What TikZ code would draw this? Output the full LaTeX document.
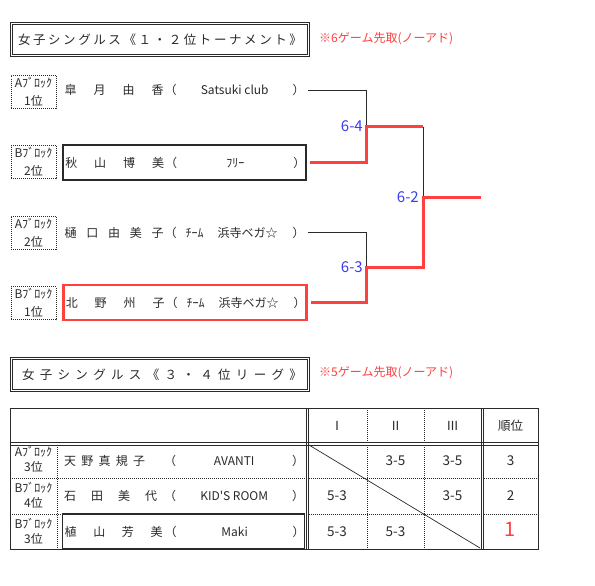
\documentclass[tikz,border=0pt]{standalone}
\usepackage{fontspec}
\newfontfamily\jp{Noto Sans CJK JP}
\usetikzlibrary{calc}
\definecolor{rd}{HTML}{FF4040}
\definecolor{bl}{HTML}{3C3CF0}
\definecolor{dk}{HTML}{2A2A2A}
\newcommand\pl[4]{\makebox[102pt][l]{\hspace{2pt}\makebox[#1][s]{#2}}（\makebox[116pt][#3]{#4}）}
\begin{document}
\begin{tikzpicture}[x=1pt,y=-1pt,
  ttl/.style={draw=dk, line width=0.7pt, double, double distance=1.6pt, minimum width=297pt, minimum height=32pt, inner sep=0pt, text=dk, font=\jp\fontsize{12.5}{12.5}\selectfont},
  note/.style={anchor=west, inner sep=0pt, text=rd, font=\jp\fontsize{12}{12}\selectfont},
  lbl/.style={draw=dk, line width=0.8pt, dash pattern=on 1pt off 1pt, minimum width=45pt, minimum height=33pt, inner sep=0pt, align=center, text=dk, font=\jp\fontsize{12}{18}\selectfont},
  tlbl/.style={inner sep=0pt, align=center, text=dk, font=\jp\fontsize{12}{15}\selectfont},
  pname/.style={anchor=west, minimum width=243pt, minimum height=35pt, inner sep=0pt, text=dk, font=\jp\fontsize{12}{12}\selectfont},
  tname/.style={anchor=west, minimum width=242pt, minimum height=35pt, inner sep=0pt, text=dk, font=\jp\fontsize{12}{12}\selectfont},
  lose/.style={draw=dk, line width=0.8pt},
  win/.style={draw=rd, line width=3pt, line join=miter},
  score/.style={anchor=east, inner sep=0pt, text=bl, font=\jp\fontsize{15}{15}\selectfont},
  sc/.style={inner sep=0pt, text=dk, font=\jp\fontsize{13.5}{13.5}\selectfont},
  hdr/.style={inner sep=0pt, text=dk, font=\jp\fontsize{12.5}{12.5}\selectfont},
  tbl/.style={draw=dk, line width=0.8pt},
  dotl/.style={draw=dk, line width=0.8pt, dash pattern=on 1pt off 1pt}
]
\fill[white] (0,0) rectangle (595,586);
\useasboundingbox (0,0) rectangle (595,586);

% ---- Title 1
\node[ttl] (t1) at (160,39.5) {\makebox[284pt][s]{女\hfill 子\hfill シ\hfill ン\hfill グ\hfill ル\hfill ス\hfill 《\hfill １\hfill ・\hfill ２\hfill 位\hfill ト\hfill ー\hfill ナ\hfill メ\hfill ン\hfill ト\hfill 》}};
\node[note] (n1) at (319,39) {※6ゲーム先取(ノーアド)};

% ---- Tournament labels
\node[lbl] (a1) at (33.5,92) {Aﾌﾞﾛｯｸ\\1位};
\node[lbl] (a2) at (33.5,162) {Bﾌﾞﾛｯｸ\\2位};
\node[lbl] (a3) at (33.5,232.5) {Aﾌﾞﾛｯｸ\\2位};
\node[lbl] (a4) at (33.5,303) {Bﾌﾞﾛｯｸ\\1位};

% ---- Players
\node[pname] (p1) at (62,90) {\pl{99pt}{皐\hfill 月\hfill 由\hfill 香}{c}{Satsuki club}};
\node[pname, draw=dk, line width=1.5pt] (p2) at (62,162.5) {\pl{99pt}{秋\hfill 山\hfill 博\hfill 美}{c}{ﾌﾘｰ}};
\node[pname] (p3) at (62,232.5) {\pl{99pt}{樋\hfill 口\hfill 由\hfill 美\hfill 子}{l}{\hspace{9pt}ﾁｰﾑ\hspace{14pt}浜寺ベガ☆}};
\node[pname, draw=rd, line width=2.5pt] (p4) at (62,302.5) {\pl{99pt}{北\hfill 野\hfill 州\hfill 子}{l}{\hspace{9pt}ﾁｰﾑ\hspace{14pt}浜寺ベガ☆}};

% ---- Bracket
\coordinate (m1) at (366,126.5);
\coordinate (m2) at (366,267);
\coordinate (s1) at (423,126.5);
\coordinate (s2) at (423,267);
\coordinate (f) at (423,197);
\coordinate (w) at (481,197);
\draw[lose] ([xshift=3pt]p1.east) -| (m1);
\draw[lose] (s1) -- (f);
\draw[lose] ([xshift=3pt]p3.east) -| (m2);
\draw[win] ([xshift=3pt]p2.east) -| (m1) -- (s1);
\draw[win] ([xshift=3pt]p4.east) -| (m2) -- (s2) -- (f) -- (w);
\node[score] (r1) at ([xshift=-3pt]m1) {6-4};
\node[score] (r2) at ([xshift=-3pt]m2) {6-3};
\node[score] (r3) at ([xshift=-4pt]f) {6-2};

% ---- Title 2
\node[ttl] (t2) at (160,374.5) {\hspace*{4pt}\makebox[280pt][s]{女\hfill 子\hfill シ\hfill ン\hfill グ\hfill ル\hfill ス\hfill 《\hfill ３\hfill ・\hfill ４\hfill 位\hfill リ\hfill ー\hfill グ\hfill 》}};
\node[note] (n2) at (319,373) {※5ゲーム先取(ノーアド)};

% ---- League table grid
\draw[tbl] (10,408) rectangle (538,549);
\draw[tbl] (306,408) -- (306,549) (308.5,408) -- (308.5,549);
\draw[tbl] (481,408) -- (481,549) (483.5,408) -- (483.5,549);
\draw[tbl] (10,442.5) -- (538,442.5) (10,445) -- (538,445);
\draw[dotl] (57,445) -- (57,549);
\draw[dotl] (10,478) -- (306,478) (308.5,478) -- (481,478) (483.5,478) -- (538,478);
\draw[dotl] (10,514) -- (306,514) (308.5,514) -- (481,514) (483.5,514) -- (538,514);
\draw[dotl] (367,408) -- (367,442.5) (367,445) -- (367,549);
\draw[dotl] (424,408) -- (424,442.5) (424,445) -- (424,549);
\draw[dk, line width=0.7pt] (309,445) -- (480,548);

% ---- Header
\node[hdr] (h1) at (337,425.5) {Ⅰ};
\node[hdr] (h2) at (395.5,425.5) {Ⅱ};
\node[hdr] (h3) at (452.5,425.5) {Ⅲ};
\node[hdr] (h4) at (510.5,425.5) {順位};

% ---- League rows
\node[tlbl] (b1) at (33.5,459) {Aﾌﾞﾛｯｸ\\3位};
\node[tlbl] (b2) at (33.5,495) {Bﾌﾞﾛｯｸ\\4位};
\node[tlbl] (b3) at (33.5,531) {Bﾌﾞﾛｯｸ\\3位};
\node[tname] (q1) at (62,461) {\pl{81pt}{天\hfill 野\hfill 真\hfill 規\hfill 子}{c}{AVANTI}};
\node[tname] (q2) at (62,496) {\pl{93pt}{石\hfill 田\hfill 美\hfill 代}{c}{KID'S ROOM}};
\node[tname, draw=dk, line width=1.2pt] (q3) at (62,531.5) {\pl{98pt}{植\hfill 山\hfill 芳\hfill 美}{c}{Maki}};

% ---- Scores
\node[sc] (c12) at (395.5,461) {3-5};
\node[sc] (c13) at (452.5,461) {3-5};
\node[sc] (k1) at (510.5,461) {3};
\node[sc] (c21) at (337,496) {5-3};
\node[sc] (c23) at (452.5,496) {3-5};
\node[sc] (k2) at (510.5,496) {2};
\node[sc] (c31) at (337,531.5) {5-3};
\node[sc] (c32) at (395.5,531.5) {5-3};
\node[inner sep=0pt, text=rd, font=\jp\fontsize{20}{20}\selectfont] (k3) at (510.5,529.5) {1};
\end{tikzpicture}
\end{document}
